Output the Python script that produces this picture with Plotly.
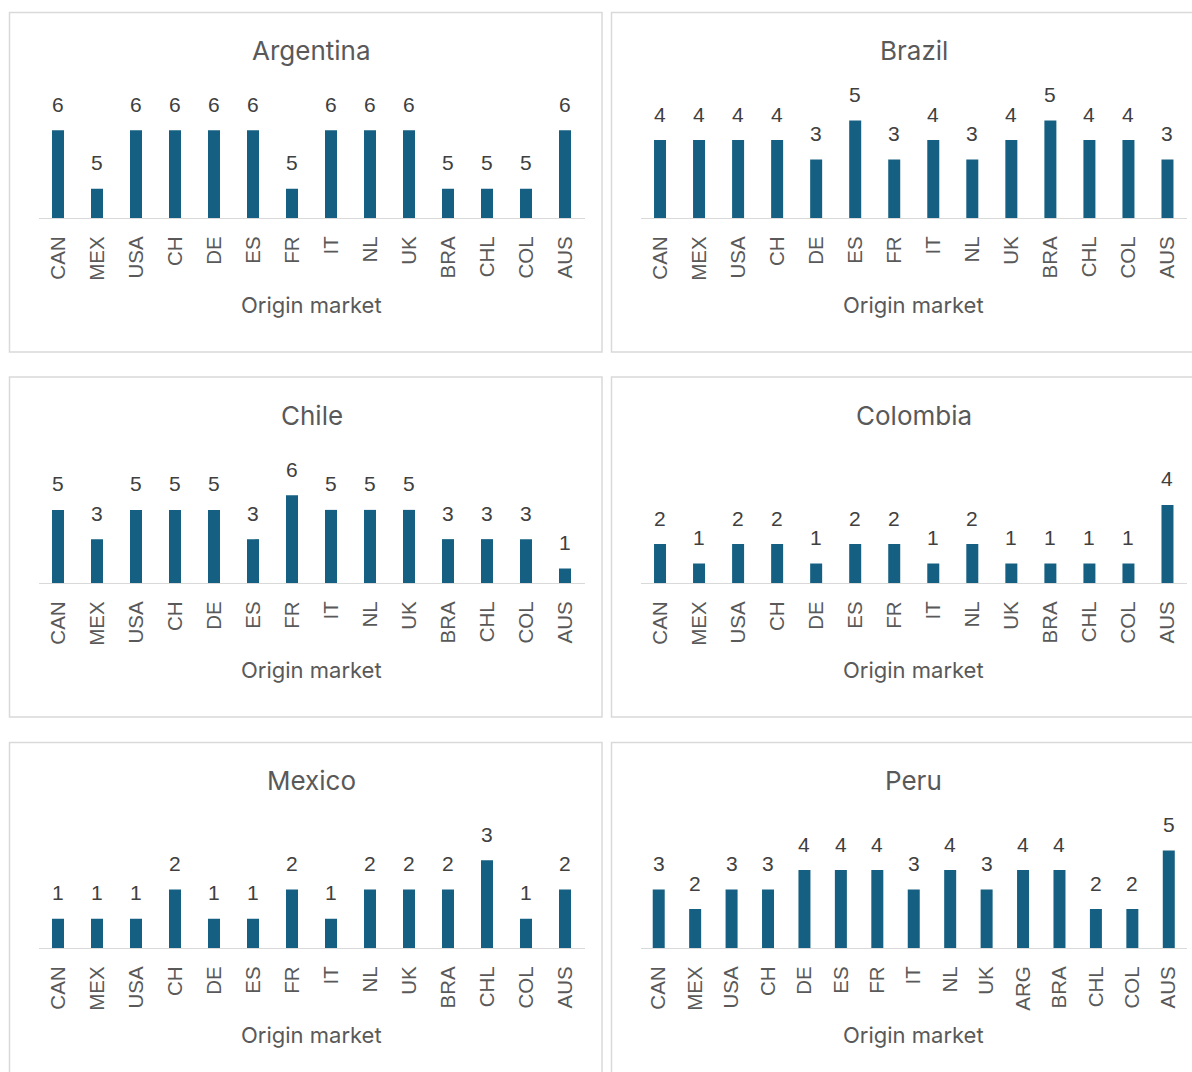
import plotly.graph_objects as go

W, H = 1192, 1072

cats14 = ["CAN", "MEX", "USA", "CH", "DE", "ES", "FR", "IT", "NL", "UK", "BRA", "CHL", "COL", "AUS"]
cats_peru = ["CAN", "MEX", "USA", "CH", "DE", "ES", "FR", "IT", "NL", "UK", "ARG", "BRA", "CHL", "COL", "AUS"]

argentina = [6, 5, 6, 6, 6, 6, 5, 6, 6, 6, 5, 5, 5, 6]
brazil = [4, 4, 4, 4, 3, 5, 3, 4, 3, 4, 5, 4, 4, 3]
chile = [5, 3, 5, 5, 5, 3, 6, 5, 5, 5, 3, 3, 3, 1]
colombia = [2, 1, 2, 2, 1, 2, 2, 1, 2, 1, 1, 1, 1, 4]
mexico = [1, 1, 1, 2, 1, 1, 2, 1, 2, 2, 2, 3, 1, 2]
peru = [3, 2, 3, 3, 4, 4, 4, 3, 4, 3, 4, 4, 2, 2, 5]

titles = ["Argentina", "Brazil", "Chile", "Colombia", "Mexico", "Peru"]
categories = [cats14, cats14, cats14, cats14, cats14, cats_peru]
values = [argentina, brazil, chile, colombia, mexico, peru]
y_ranges = [[4.5, 6.5], [0, 6], [0, 8], [0, 6], [0, 4], [0, 6]]
axis_title = "Origin market"

BAR = "#156082"
GRAY = "#595959"
LABEL = "#404040"
LINE = "#D9D9D9"
TITLE_FONT = "Inter"
TICK_FONT = "Liberation Sans"

col_x = [(38.5, 584.5), (640.5, 1187.0)]
row_base = [218, 583, 948]
plot_h = 117

fig = go.Figure()
layout = dict(
    width=W, height=H,
    margin=dict(l=0, r=0, t=0, b=0),
    paper_bgcolor="white", plot_bgcolor="white",
    showlegend=False,
)
annotations = []
shapes = []

def py(px):
    return 1 - px / H

for i in range(6):
    r, c = divmod(i, 2)
    n = i + 1
    xa = "xaxis" if n == 1 else f"xaxis{n}"
    ya = "yaxis" if n == 1 else f"yaxis{n}"
    xr = "x" if n == 1 else f"x{n}"
    yr = "y" if n == 1 else f"y{n}"
    x0, x1 = col_x[c]
    base = row_base[r]
    cats = categories[i]
    vals = values[i]
    bw = 12 / ((x1 - x0) / len(cats))
    fig.add_trace(go.Bar(
        x=cats, y=vals, xaxis=xr, yaxis=yr,
        marker=dict(color=BAR, line=dict(width=0)),
        width=bw, hoverinfo="skip",
    ))
    layout[xa] = dict(
        domain=[x0 / W, x1 / W], anchor=yr, type="category",
        categoryorder="array", categoryarray=cats,
        range=[-0.5, len(cats) - 0.5],
        showline=True, linecolor=LINE, linewidth=1.3,
        showgrid=False, zeroline=False, ticks="",
        tickangle=-90, ticklabelstandoff=9,
        tickfont=dict(family=TICK_FONT, size=20.5, color=GRAY),
        fixedrange=True,
    )
    layout[ya] = dict(
        domain=[py(base), py(base - plot_h)], anchor=xr,
        range=y_ranges[i], visible=False, fixedrange=True,
    )
    for cat, v in zip(cats, vals):
        annotations.append(dict(
            x=cat, y=v, xref=xr, yref=yr, text=str(v), showarrow=False,
            yanchor="middle", yshift=26,
            font=dict(family=TICK_FONT, size=21, color=LABEL),
        ))
    xc = (x0 + x1) / 2 / W
    annotations.append(dict(
        x=xc, y=py(50 + 365 * r), xref="paper", yref="paper",
        text=titles[i], showarrow=False, xanchor="center", yanchor="middle",
        font=dict(family=TITLE_FONT, size=26, color=GRAY),
    ))
    annotations.append(dict(
        x=xc, y=py(305 + 365 * r), xref="paper", yref="paper",
        text=axis_title, showarrow=False, xanchor="center", yanchor="middle",
        font=dict(family=TITLE_FONT, size=22, color=GRAY),
    ))

panel_x = [(9.5, 602.0), (611.5, 1210.0)]
panel_y = [(12.5, 352.0), (377.0, 717.0), (742.5, 1090.0)]
for (px0, px1) in panel_x:
    for (pyt, pyb) in panel_y:
        shapes.append(dict(
            type="rect", xref="paper", yref="paper",
            x0=px0 / W, x1=px1 / W, y0=py(pyb), y1=py(pyt),
            line=dict(color=LINE, width=1.5), fillcolor="rgba(0,0,0,0)",
            layer="below",
        ))

layout["annotations"] = annotations
layout["shapes"] = shapes
fig.update_layout(**layout)
fig.write_html("out.html", config={"displayModeBar": False})
